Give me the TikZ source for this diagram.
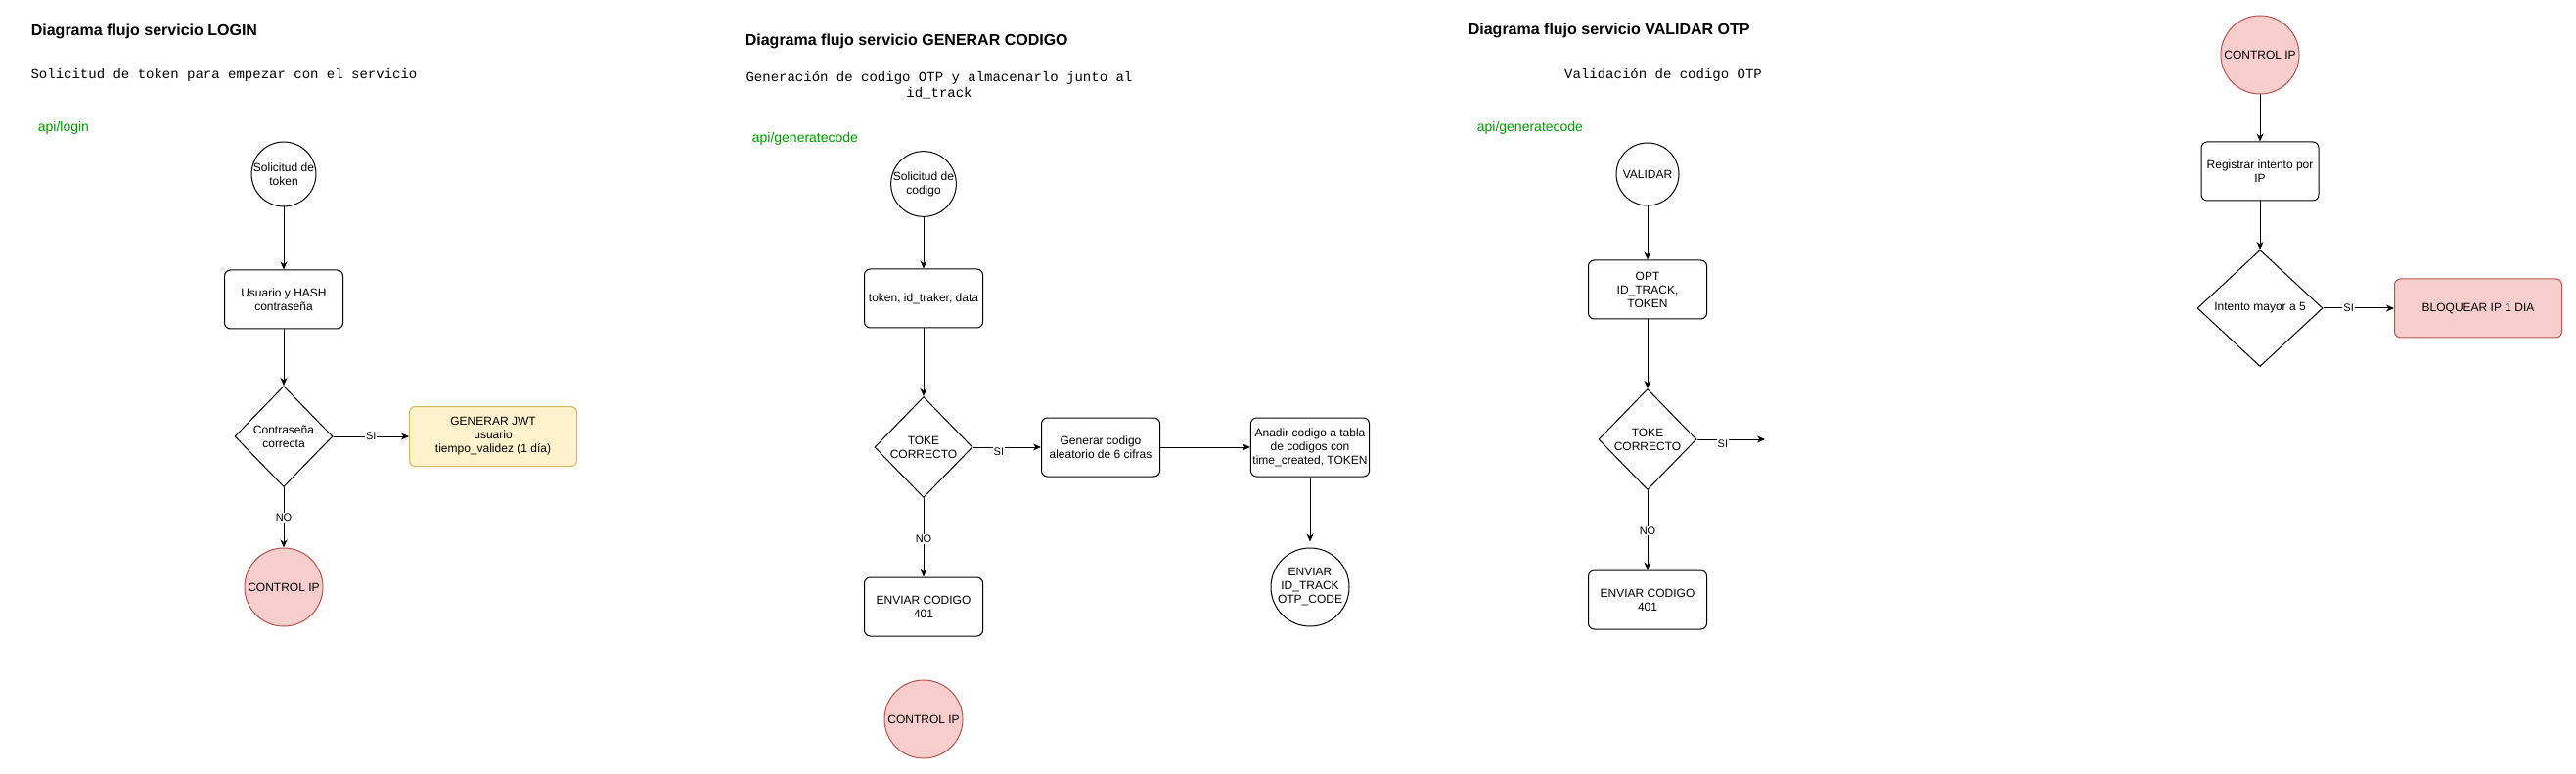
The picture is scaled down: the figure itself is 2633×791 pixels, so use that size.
\documentclass[tikz,border=0pt]{standalone}
\usepackage{fontspec}
\setmainfont{Liberation Sans}
\newfontfamily\codefont{Liberation Mono}
\usetikzlibrary{shapes.geometric, arrows.meta}

\definecolor{ipfill}{HTML}{F8CECC}
\definecolor{ipline}{HTML}{B85450}
\definecolor{jwtfill}{HTML}{FFF2CC}
\definecolor{jwtline}{HTML}{D6B656}
\definecolor{apigreen}{HTML}{009900}

\begin{document}
\begin{tikzpicture}[x=1pt, y=-1pt, line width=1pt,
  every node/.style={font=\fontsize{12}{14}\selectfont},
  titletext/.style={anchor=west, font=\fontsize{16}{19}\selectfont\bfseries},
  subtext/.style={align=center, font=\fontsize{14}{16}\selectfont\codefont},
  apitext/.style={anchor=west, text=apigreen, font=\fontsize{14}{16}\selectfont},
  startnode/.style={draw, circle, minimum size=64pt, inner sep=0pt, align=center},
  endnode/.style={draw, circle, minimum size=80pt, inner sep=0pt, align=center},
  ipnode/.style={draw=ipline, fill=ipfill, circle, minimum size=80pt, inner sep=0pt, align=center},
  stepbox/.style={draw, rectangle, rounded corners=6pt, minimum width=121pt, minimum height=60pt, inner sep=2pt, align=center},
  decision/.style={draw, diamond, minimum width=100pt, minimum height=103pt, inner sep=0pt, align=center},
  flow/.style={-{Stealth[length=8pt, width=7pt, inset=2.5pt]}},
  edgelabel/.style={fill=white, inner sep=1pt, font=\fontsize{11}{13}\selectfont}
]

  \useasboundingbox (0,0) rectangle (2633,791);
  \fill[white] (0,0) rectangle (2633,791);

  % --- LOGIN ---
  \node[titletext] (tlogin) at (28,32) {Diagrama flujo servicio LOGIN};
  \node[subtext] (slogin) at (229,77) {Solicitud de token para empezar con el servicio};
  \node[apitext] (alogin) at (35,131) {api/login};

  \node[startnode] (soltoken) at (290,178) {Solicitud de\\token};
  \node[stepbox] (usrhash) at (290,306) {Usuario y HASH\\contraseña};
  \node[decision] (pwdok) at (290,446) {Contraseña\\correcta};
  \node[stepbox, draw=jwtline, fill=jwtfill, minimum width=171pt, minimum height=61pt] (jwt) at (504,446) {GENERAR JWT\\usuario\\tiempo\_validez (1 día)};
  \node[ipnode] (iplogin) at (290,600) {CONTROL IP};

  \draw[flow] (soltoken) -- (usrhash);
  \draw[flow] (usrhash) -- (pwdok);
  \draw[flow] (pwdok) -- node[edgelabel] {SI} (jwt);
  \draw[flow] (pwdok) -- node[edgelabel] {NO} (iplogin);

  % --- GENERAR CODIGO ---
  \node[titletext] (tgen) at (758,42) {Diagrama flujo servicio GENERAR CODIGO};
  \node[subtext] (sgen) at (960,87) {Generación de codigo OTP y almacenarlo junto al\\id\_track};
  \node[apitext] (agen) at (765,142) {api/generatecode};

  \node[startnode] (solcod) at (944,188) {Solicitud de\\codigo};
  \node[stepbox] (tokdata) at (944,305) {token, id\_traker, data};
  \node[decision] (tokok) at (944,457) {TOKE\\CORRECTO};
  \node[stepbox] (gencod) at (1125,457) {Generar codigo\\aleatorio de 6 cifras};
  \node[stepbox] (addcod) at (1339,457) {Anadir codigo a tabla\\de codigos con\\time\_created, TOKEN};
  \node[endnode] (sendcod) at (1339,600) {ENVIAR\\ID\_TRACK\\OTP\_CODE};
  \node[stepbox] (errgen) at (944,620) {ENVIAR CODIGO\\401};
  \node[ipnode] (ipgen) at (944,735) {CONTROL IP};

  \draw[flow] (solcod) -- (tokdata);
  \draw[flow] (tokdata) -- (tokok);
  \draw[flow] (tokok) -- node[edgelabel, pos=0.38, yshift=-5pt] {SI} (gencod);
  \draw[flow] (gencod) -- (addcod);
  \draw[flow, shorten >=6pt] (addcod) -- (sendcod);
  \draw[flow] (tokok) -- node[edgelabel, pos=0.52] {NO} (errgen);

  % --- VALIDAR OTP ---
  \node[titletext] (tval) at (1497,31) {Diagrama flujo servicio VALIDAR OTP};
  \node[subtext] (sval) at (1700,77) {Validación de codigo OTP};
  \node[apitext] (aval) at (1506,131) {api/generatecode};

  \node[startnode] (valid) at (1684,178) {VALIDAR};
  \node[stepbox] (otpdata) at (1684,296) {OPT\\ID\_TRACK,\\TOKEN};
  \node[decision] (valok) at (1684,449) {TOKE\\CORRECTO};
  \node[stepbox] (errval) at (1684,613) {ENVIAR CODIGO\\401};
  \coordinate (valnext) at (1804,449);

  \draw[flow] (valid) -- (otpdata);
  \draw[flow] (otpdata) -- (valok);
  \draw[flow] (valok) -- node[edgelabel, pos=0.38, yshift=-5pt] {SI} (valnext);
  \draw[flow] (valok) -- node[edgelabel, pos=0.51] {NO} (errval);

  % --- CONTROL IP ---
  \node[ipnode] (ipctl) at (2310,56) {CONTROL IP};
  \node[stepbox, minimum width=120pt] (regip) at (2310,175) {Registrar intento por\\IP};
  \node[decision, minimum width=128pt, minimum height=119pt] (maxip) at (2310,315) {Intento mayor a 5};
  \node[stepbox, draw=ipline, fill=ipfill, minimum width=171pt] (blockip) at (2533,315) {BLOQUEAR IP 1 DIA};

  \draw[flow] (ipctl) -- (regip);
  \draw[flow] (regip) -- (maxip);
  \draw[flow] (maxip) -- node[edgelabel, pos=0.36] {SI} (blockip);

\end{tikzpicture}
\end{document}
